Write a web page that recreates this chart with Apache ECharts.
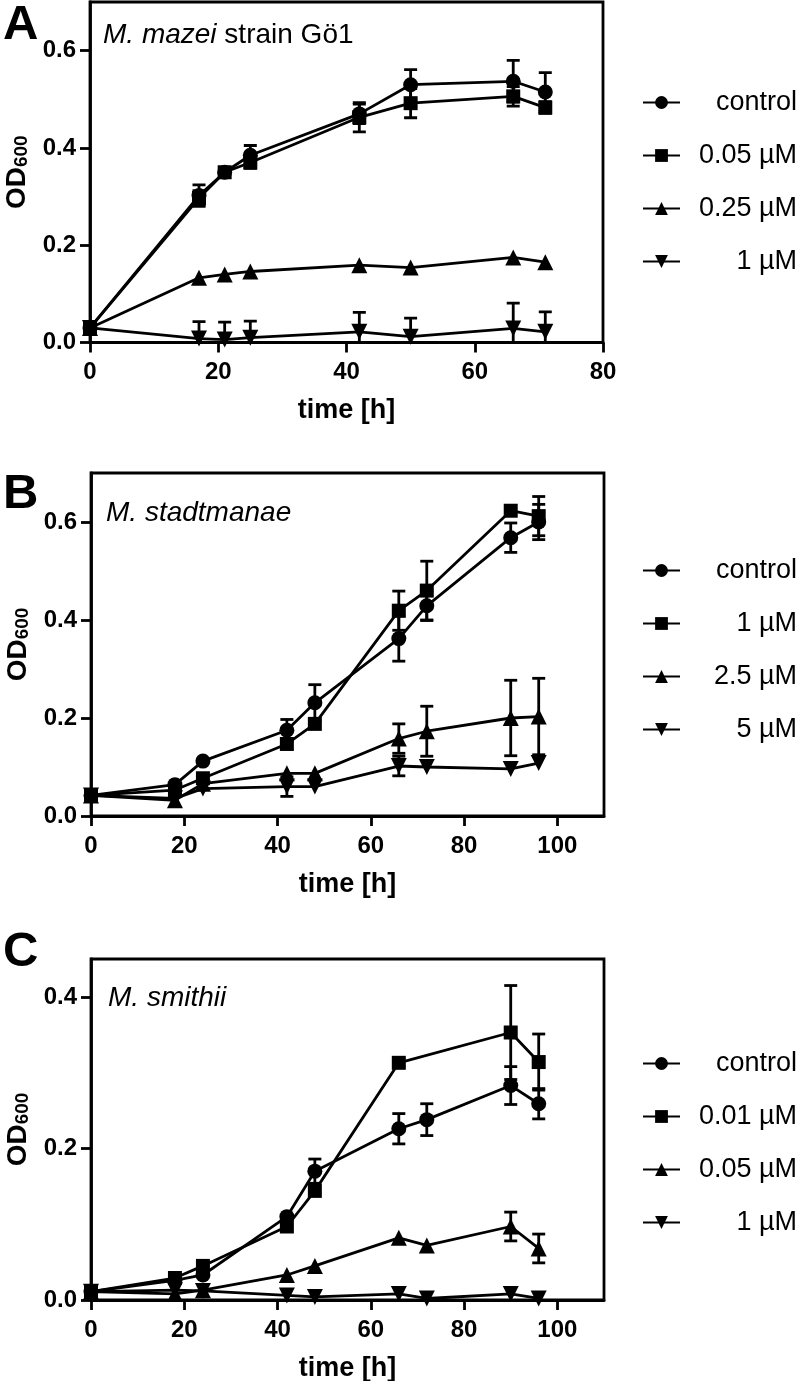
<!DOCTYPE html>
<html>
<head>
<meta charset="utf-8">
<script src="https://cdn.jsdelivr.net/npm/echarts@6/dist/echarts.min.js"></script>
<style>
html,body{margin:0;padding:0;background:#fff;}
#chart{width:800px;height:1381px;}
</style>
</head>
<body>
<div id="chart"></div>
<script>
// ---------- Panel A: M. mazei strain Gö1 ----------
const timeA = [0, 17, 21, 25, 42, 50, 66, 71];
const ctrlA = [0.030, 0.302, 0.350, 0.385, 0.470, 0.530, 0.537, 0.515];
const ctrlAErr = [0, 0.022, 0, 0.020, 0.020, 0.031, 0.043, 0.040];
const c005A = [0.030, 0.297, 0.350, 0.370, 0.463, 0.492, 0.506, 0.483];
const c005AErr = [0, 0.015, 0, 0.012, 0.030, 0.030, 0.020, 0.012];
const c025A = [0.030, 0.133, 0.140, 0.146, 0.159, 0.154, 0.175, 0.165];
const c025AErr = [0, 0, 0, 0, 0, 0, 0, 0];
const c1A = [0.030, 0.008, 0.006, 0.010, 0.022, 0.012, 0.029, 0.022];
const c1AErr = [0, 0.035, 0.036, 0.034, 0.040, 0.038, 0.052, 0.041];
const legendA = ['control', '0.05 µM', '0.25 µM', '1 µM'];

// ---------- Panel B: M. stadtmanae ----------
const timeB = [0, 18, 24, 42, 48, 66, 72, 90, 96];
const ctrlB = [0.042, 0.064, 0.112, 0.175, 0.231, 0.362, 0.429, 0.568, 0.600];
const ctrlBErr = [0, 0, 0, 0.022, 0.037, 0.046, 0.030, 0.030, 0.036];
const c1B = [0.042, 0.053, 0.077, 0.147, 0.188, 0.419, 0.460, 0.623, 0.612];
const c1BErr = [0, 0, 0, 0, 0, 0.040, 0.060, 0, 0.040];
const c25B = [0.042, 0.032, 0.066, 0.087, 0.087, 0.158, 0.173, 0.200, 0.203];
const c25BErr = [0, 0, 0, 0, 0, 0.030, 0.051, 0.077, 0.078];
const c5B = [0.042, 0.036, 0.056, 0.060, 0.060, 0.102, 0.100, 0.096, 0.108];
const c5BErr = [0, 0, 0, 0.020, 0, 0.020, 0, 0, 0];
const legendB = ['control', '1 µM', '2.5 µM', '5 µM'];

// ---------- Panel C: M. smithii ----------
const timeC = [0, 18, 24, 42, 48, 66, 72, 90, 96];
const timeC001 = [0, 18, 24, 42, 48, 66, 90, 96];
const ctrlC = [0.011, 0.026, 0.033, 0.110, 0.170, 0.226, 0.238, 0.283, 0.259];
const ctrlCErr = [0, 0, 0, 0, 0.016, 0.020, 0.021, 0.025, 0.020];
const c001C = [0.011, 0.029, 0.045, 0.097, 0.144, 0.313, 0.353, 0.314];
const c001CErr = [0, 0, 0, 0, 0, 0.005, 0.062, 0.037];
const c005C = [0.011, 0.008, 0.013, 0.033, 0.045, 0.082, 0.072, 0.097, 0.068];
const c005CErr = [0, 0, 0, 0, 0, 0, 0, 0.019, 0.019];
const c1C = [0.011, 0.013, 0.012, 0.006, 0.004, 0.008, 0.002, 0.008, 0.002];
const c1CErr = [0, 0, 0, 0, 0, 0, 0, 0, 0];
const legendC = ['control', '0.01 µM', '0.05 µM', '1 µM'];

// ticks
const xTicksA = [0, 20, 40, 60, 80];
const xTicksBC = [0, 20, 40, 60, 80, 100];
const yTicksAB = [0, 0.2, 0.4, 0.6];
const yTicksC = [0, 0.2, 0.4];

const FONT = '"Liberation Sans", Arial, Helvetica, sans-serif';
const BLACK = '#000';
const LW = 2.8;

const chart = echarts.init(document.getElementById('chart'), null, {renderer: 'canvas'});

function xAxisCfg(gi, max, ticks) {
  return {
    type: 'value', gridIndex: gi, min: 0, max: max, interval: 20,
    name: 'time [h]', nameLocation: 'middle', nameGap: 55,
    nameTextStyle: {fontFamily: FONT, fontWeight: 'bold', fontSize: 27, color: BLACK},
    axisLine: {show: true, onZero: false, lineStyle: {color: BLACK, width: LW}},
    axisTick: {show: true, length: 10, lineStyle: {color: BLACK, width: LW}, customValues: ticks},
    axisLabel: {fontFamily: FONT, fontWeight: 'bold', fontSize: 24, color: BLACK, margin: 18,
      customValues: ticks, formatter: v => String(v)},
    splitLine: {show: false}
  };
}
function yAxisCfg(gi, max, ticks) {
  return {
    type: 'value', gridIndex: gi, min: 0, max: max, interval: 0.2,
    name: 'OD{s|600}', nameLocation: 'middle', nameGap: 58, nameRotate: 90,
    nameTextStyle: {fontFamily: FONT, fontWeight: 'bold', fontSize: 28, color: BLACK,
      rich: {s: {fontFamily: FONT, fontWeight: 'bold', fontSize: 19, color: BLACK, padding: [10, 0, 0, 0]}}},
    axisLine: {show: true, onZero: false, lineStyle: {color: BLACK, width: LW}},
    axisTick: {show: true, length: 10, lineStyle: {color: BLACK, width: LW}, customValues: ticks},
    axisLabel: {fontFamily: FONT, fontWeight: 'bold', fontSize: 24, color: BLACK, margin: 14,
      customValues: ticks, formatter: v => v.toFixed(1)},
    splitLine: {show: false}
  };
}

function lineSeries(name, gi, xs, ys, symbol, size, rot) {
  return {
    name: name, type: 'line', xAxisIndex: gi, yAxisIndex: gi,
    data: xs.map((t, i) => [t, ys[i]]),
    symbol: symbol, symbolSize: size, symbolRotate: rot || 0,
    showAllSymbol: true, clip: false, z: 3,
    lineStyle: {color: BLACK, width: LW},
    itemStyle: {color: BLACK, borderColor: BLACK, borderWidth: 0},
    emphasis: {disabled: true}, animation: false
  };
}

function errSeries(gi, xs, ys, es) {
  return {
    type: 'custom', xAxisIndex: gi, yAxisIndex: gi, clip: true, z: 2, silent: true,
    data: xs.map((t, i) => [t, ys[i], es[i]]),
    renderItem: function (params, api) {
      const x = api.value(0), y = api.value(1), e = api.value(2);
      if (!e) return null;
      const top = api.coord([x, y + e]);
      const bot = api.coord([x, y - e]);
      const cap = 6.5;
      const style = {stroke: BLACK, lineWidth: LW};
      return {type: 'group', children: [
        {type: 'line', shape: {x1: top[0], y1: top[1], x2: bot[0], y2: bot[1]}, style: style},
        {type: 'line', shape: {x1: top[0] - cap, y1: top[1], x2: top[0] + cap, y2: top[1]}, style: style},
        {type: 'line', shape: {x1: bot[0] - cap, y1: bot[1], x2: bot[0] + cap, y2: bot[1]}, style: style}
      ]};
    },
    animation: false
  };
}

function legendCfg(prefix, names, top) {
  return {
    orient: 'vertical', left: 637, top: top, itemWidth: 37, itemHeight: 16, itemGap: 26,
    data: names.map(n => prefix + '|' + n),
    formatter: n => '{t|' + n.split('|')[1] + '}',
    textStyle: {fontFamily: FONT, fontSize: 27, color: BLACK,
      rich: {t: {fontFamily: FONT, fontSize: 27, color: BLACK, width: 112, align: 'right'}}},
    selectedMode: false
  };
}

const SYM = [['circle', 15, 0], ['rect', 14, 0], ['triangle', 16, 0], ['triangle', 16, 180]];

const series = [];
function addPanel(prefix, gi, names, sets) {
  sets.forEach((s) => {
    series.push(errSeries(gi, s[0], s[1], s[2]));
  });
  sets.forEach((s, k) => {
    series.push(lineSeries(prefix + '|' + names[k], gi, s[0], s[1], SYM[k][0], SYM[k][1], SYM[k][2]));
  });
}
addPanel('A', 0, legendA, [[timeA, ctrlA, ctrlAErr], [timeA, c005A, c005AErr], [timeA, c025A, c025AErr], [timeA, c1A, c1AErr]]);
addPanel('B', 1, legendB, [[timeB, ctrlB, ctrlBErr], [timeB, c1B, c1BErr], [timeB, c25B, c25BErr], [timeB, c5B, c5BErr]]);
addPanel('C', 2, legendC, [[timeC, ctrlC, ctrlCErr], [timeC001, c001C, c001CErr], [timeC, c005C, c005CErr], [timeC, c1C, c1CErr]]);

const gridStyle = {show: true, borderColor: BLACK, borderWidth: LW, backgroundColor: 'transparent',
  containLabel: false, outerBoundsMode: 'none'};

function subTitle(text, left, top) {
  return {text: text, left: left, top: top,
    textStyle: {fontFamily: FONT, fontWeight: 'normal', fontSize: 28, color: BLACK,
      rich: {i: {fontFamily: FONT, fontStyle: 'italic', fontWeight: 'normal', fontSize: 28, color: BLACK},
             n: {fontFamily: FONT, fontStyle: 'normal', fontWeight: 'normal', fontSize: 28, color: BLACK}}}};
}
function letter(text, top) {
  return {text: text, left: -2, top: top, textStyle: {fontFamily: FONT, fontWeight: 'bold', fontSize: 49, color: BLACK}};
}

const option = {
  animation: false,
  backgroundColor: '#fff',
  title: [
    letter('A', -4),
    letter('B', 465),
    letter('C', 923),
    subTitle('{i|M. mazei}{n| strain Gö1}', 98, 16),
    subTitle('{i|M. stadtmanae}', 101, 494),
    subTitle('{i|M. smithii}', 103, 979)
  ],
  grid: [
    Object.assign({left: 90, width: 513, top: 2, height: 340.5}, gridStyle),
    Object.assign({left: 91, width: 513, top: 473, height: 343}, gridStyle),
    Object.assign({left: 91, width: 513, top: 959, height: 341}, gridStyle)
  ],
  xAxis: [xAxisCfg(0, 80, xTicksA), xAxisCfg(1, 110, xTicksBC), xAxisCfg(2, 110, xTicksBC)],
  yAxis: [yAxisCfg(0, 0.7, yTicksAB), yAxisCfg(1, 0.7, yTicksAB), yAxisCfg(2, 0.45, yTicksC)],
  legend: [legendCfg('A', legendA, 84), legendCfg('B', legendB, 552), legendCfg('C', legendC, 1045)],
  series: series
};
chart.setOption(option);
</script>
</body>
</html>
